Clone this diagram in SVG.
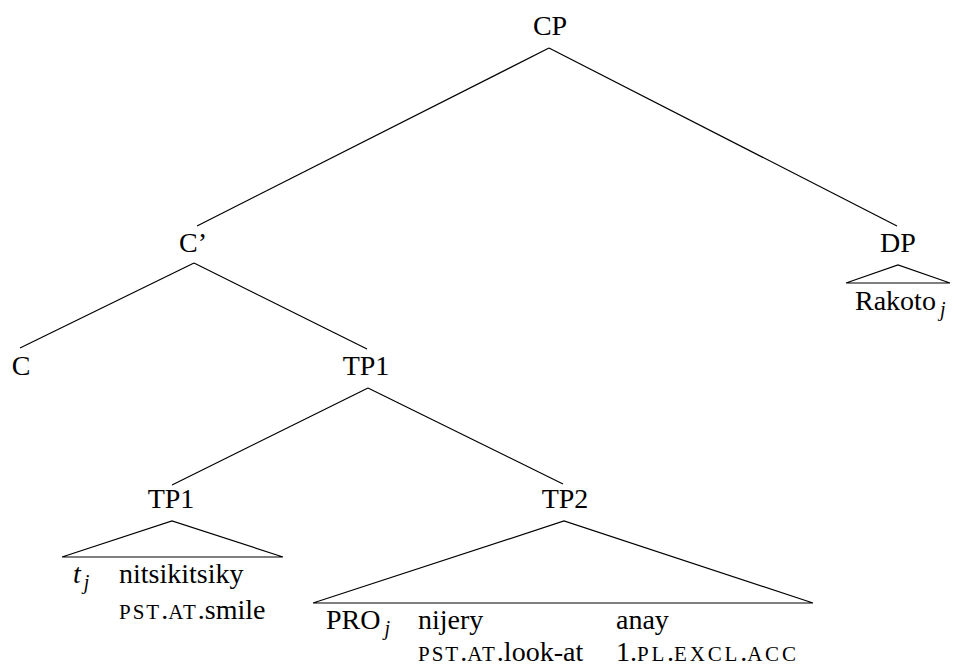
<svg xmlns="http://www.w3.org/2000/svg" width="953" height="668" viewBox="0 0 953 668">
<style>
text{font-family:'Liberation Serif','Times New Roman','DejaVu Serif',serif;font-size:28px;fill:#000}
.lbl{text-anchor:middle}
.it{font-style:italic}
.sub{font-style:italic;font-size:20px}
.sc{font-size:21px;letter-spacing:2px}
.sc3{letter-spacing:2.8px}
line,polyline{stroke:#000;stroke-width:1.2;fill:none}
</style>
<rect width="953" height="668" fill="#fff"/>
<g id="connectors">
<line x1="549" y1="48" x2="197" y2="226"/>
<line x1="549" y1="48" x2="897" y2="226"/>
<line x1="194" y1="263" x2="20" y2="348"/>
<line x1="194" y1="263" x2="367" y2="349"/>
<line x1="368" y1="388" x2="172" y2="485"/>
<line x1="368" y1="388" x2="563" y2="484"/>
</g>
<g id="CP"><text class="lbl" x="550" y="35">CP</text></g>
<g id="Cbar"><text class="lbl" x="193" y="252">C’</text></g>
<g id="DP">
<text class="lbl" x="898" y="252">DP</text>
<polyline points="846,283 898,265 950,283 846,283"/>
<text x="855" y="310">Rakoto<tspan class="sub" dx="4" dy="6">j</tspan></text>
</g>
<g id="C"><text class="lbl" x="21" y="375">C</text></g>
<g id="TP1-top"><text class="lbl" x="366" y="375">TP1</text></g>
<g id="TP1-low">
<text class="lbl" x="171" y="508">TP1</text>
<polyline points="62,557 172,521 283,557 62,557"/>
<text class="it" x="73" y="583">t<tspan class="sub" dx="3" dy="6">j</tspan></text>
<text x="119" y="583">nitsikitsiky</text>
<text x="119" y="619"><tspan class="sc">PST</tspan>.<tspan class="sc">AT</tspan>.smile</text>
</g>
<g id="TP2">
<text class="lbl" x="565" y="508">TP2</text>
<polyline points="313,603 564,521 813,603 313,603"/>
<text x="326" y="629">PRO<tspan class="sub" dx="4" dy="6">j</tspan></text>
<text x="418" y="629">nijery</text>
<text x="616" y="629">anay</text>
<text x="418" y="661"><tspan class="sc">PST</tspan>.<tspan class="sc">AT</tspan>.look-at</text>
<text x="616" y="661">1.<tspan class="sc sc3">PL</tspan>.<tspan class="sc sc3">EXCL</tspan>.<tspan class="sc sc3">ACC</tspan></text>
</g>
</svg>
